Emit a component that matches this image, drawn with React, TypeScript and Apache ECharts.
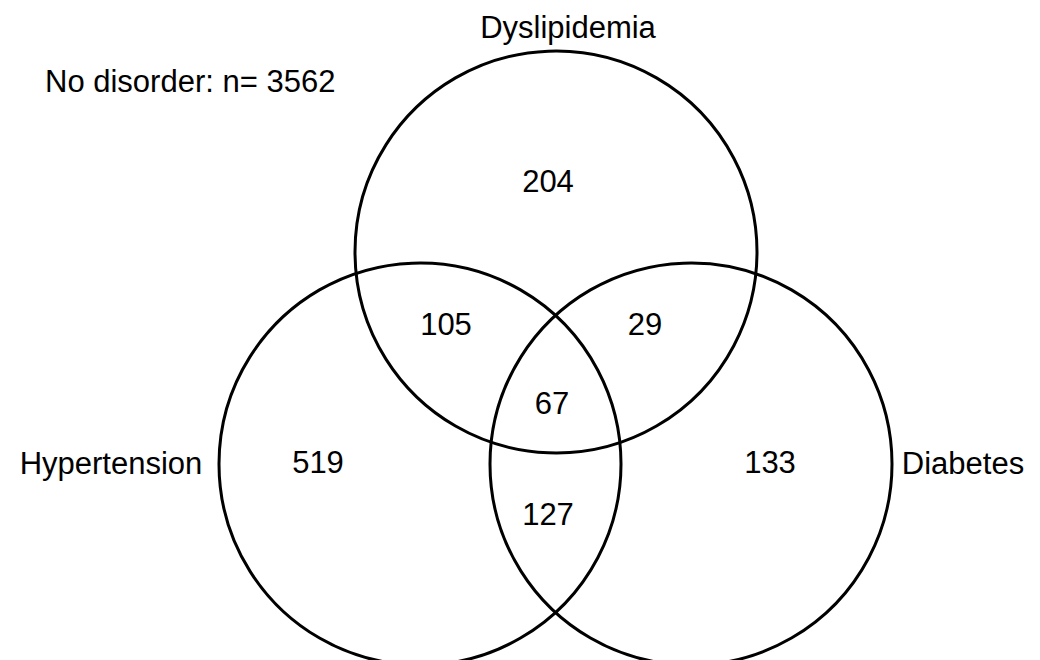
import React, { useEffect, useRef } from "react";
import * as echarts from "echarts";

// Sets (circles) in the diagram's own coordinate units
const setNames = ["Dyslipidemia", "Hypertension", "Diabetes"];
const setCenterX = [556, 420, 691];
const setCenterY = [252, 464, 464];
const setRadius = [201, 201, 201];
const setLabelX = [568, 111, 963];
const setLabelY = [27, 463, 463];

// Region counts: only D, D∩H, D∩B, D∩H∩B, only H, only B, H∩B
const regionCounts = [204, 105, 29, 67, 519, 133, 127];
const regionX = [548, 446, 645, 552, 318, 770, 548];
const regionY = [181, 324, 324, 403, 462, 462, 514];

const noDisorderLabel = "No disorder: n= ";
const noDisorderCount = 3562;
const noDisorderX = 45;
const noDisorderY = 81;

const FONT = "'Liberation Sans', Arial, Helvetica, sans-serif";

export default function App() {
  const ref = useRef<HTMLDivElement>(null);

  useEffect(() => {
    if (!ref.current) return;
    const chart = echarts.init(ref.current, undefined, { renderer: "svg" });

    const circleData = setNames.map((n, i) => [setCenterX[i], setCenterY[i], setRadius[i]]);
    const setLabelData = setNames.map((n, i) => [setLabelX[i], setLabelY[i], n]);
    const regionData = regionCounts.map((c, i) => [regionX[i], regionY[i], String(c)]);

    const textStyle = (text: string, align: string) => ({
      text,
      fontSize: 31,
      fontFamily: FONT,
      fill: "#000",
      align,
      verticalAlign: "middle",
    });

    chart.setOption({
      animation: false,
      backgroundColor: "#fff",
      grid: { left: 0, right: 0, top: 0, bottom: 0 },
      xAxis: { type: "value", min: 0, max: 1040, show: false },
      yAxis: { type: "value", min: 0, max: 660, inverse: true, show: false },
      series: [
        {
          type: "custom",
          data: circleData,
          renderItem: (params: any, api: any) => {
            const c = api.coord([api.value(0), api.value(1)]);
            const r = api.size([api.value(2), api.value(2)])[0];
            return {
              type: "circle",
              shape: { cx: c[0], cy: c[1], r },
              style: { fill: "none", stroke: "#000", lineWidth: 3 },
            };
          },
          silent: true,
        },
        {
          type: "custom",
          data: setLabelData,
          renderItem: (params: any, api: any) => {
            const c = api.coord([api.value(0), api.value(1)]);
            return {
              type: "text",
              x: c[0],
              y: c[1],
              style: textStyle(setLabelData[params.dataIndex][2] as string, "center"),
            };
          },
          silent: true,
        },
        {
          type: "custom",
          data: regionData,
          renderItem: (params: any, api: any) => {
            const c = api.coord([api.value(0), api.value(1)]);
            return {
              type: "text",
              x: c[0],
              y: c[1],
              style: textStyle(regionData[params.dataIndex][2] as string, "center"),
            };
          },
          silent: true,
        },
        {
          type: "custom",
          data: [[noDisorderX, noDisorderY, noDisorderCount]],
          renderItem: (params: any, api: any) => {
            const c = api.coord([api.value(0), api.value(1)]);
            return {
              type: "text",
              x: c[0],
              y: c[1],
              style: textStyle(noDisorderLabel + noDisorderCount, "left"),
            };
          },
          silent: true,
        },
      ],
    });

    return () => chart.dispose();
  }, []);

  return (
    <div
      ref={ref}
      style={{ position: "fixed", left: 0, top: 0, width: 1040, height: 660, background: "#fff" }}
    />
  );
}
